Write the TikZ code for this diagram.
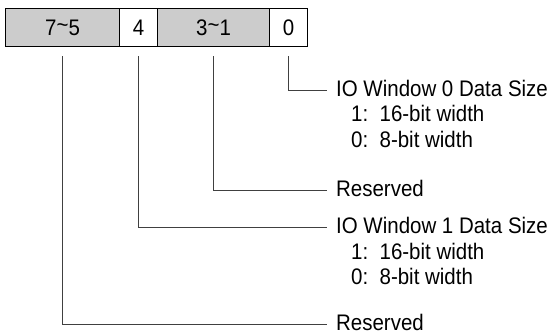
\documentclass[tikz,border=0pt]{standalone}
\usepackage{fontspec}
\setmainfont{Liberation Sans}[FakeStretch=0.91]
\begin{document}
\begin{tikzpicture}[x=1pt,y=-1pt]
\useasboundingbox (0,0) rectangle (554,334);
\tikzset{
  cell/.style={draw, line width=1.1pt, minimum height=38pt, inner sep=0pt, anchor=north west, font=\fontsize{22.5}{26}\selectfont},
  graycell/.style={cell, fill=gray!40},
  lbl/.style={anchor=base west, inner sep=0pt, font=\fontsize{22.5}{26}\selectfont},
  conn/.style={line width=0.9pt, draw=black!75}
}
% register cells
\node[graycell, minimum width=114pt] (b75) at (5,8) {7\raisebox{0.2ex}{\textasciitilde}5};
\node[cell, minimum width=38pt] (b4) at (119,8) {4};
\node[graycell, minimum width=112pt] (b31) at (157,8) {3\raisebox{0.2ex}{\textasciitilde}1};
\node[cell, minimum width=38pt] (b0) at (269,8) {0};
% labels
\node[lbl] (l0) at (336,96.5) {IO Window 0 Data Size};
\node[lbl] (l0a) at (351,122) {1:\ \ 16-bit width};
\node[lbl] (l0b) at (351,147.5) {0:\ \ 8-bit width};
\node[lbl] (l1) at (336,196.5) {Reserved};
\node[lbl] (l2) at (336,233.5) {IO Window 1 Data Size};
\node[lbl] (l2a) at (351,259) {1:\ \ 16-bit width};
\node[lbl] (l2b) at (351,284.5) {0:\ \ 8-bit width};
\node[lbl] (l3) at (336,330) {Reserved};
% connector endpoints
\coordinate (s0) at ([yshift=-9pt]b0.south);
\coordinate (s31) at ([yshift=-9pt]b31.south);
\coordinate (s4) at ([yshift=-9pt]b4.south);
\coordinate (s75) at ([yshift=-9pt]b75.south);
\coordinate (e0) at (327,90);
\coordinate (e1) at (327,190);
\coordinate (e2) at (327,227);
\coordinate (e3) at (327,324.5);
\draw[conn] (s0) |- (e0);
\draw[conn] (s31) |- (e1);
\draw[conn] (s4) |- (e2);
\draw[conn] (s75) |- (e3);
\end{tikzpicture}
\end{document}
